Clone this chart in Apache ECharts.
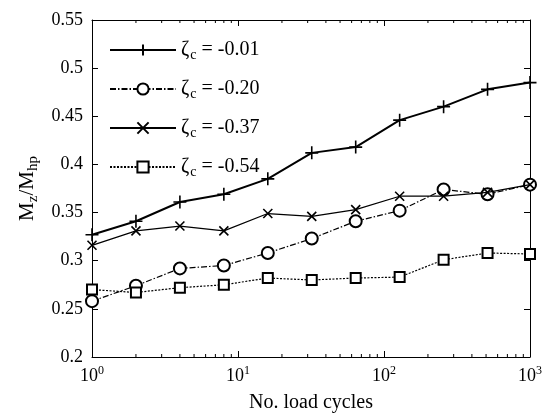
<!DOCTYPE html>
<html>
<head>
<meta charset="utf-8">
<script src="https://cdn.jsdelivr.net/npm/echarts@6/dist/echarts.min.js"></script>
<style>
  html, body { margin: 0; padding: 0; background: #fff; }
  #main { width: 545px; height: 418px; }
</style>
</head>
<body>
<div id="main"></div>
<script>
// load cycles (log x axis)
var cycles = [1, 2, 4, 8, 16, 32, 64, 128, 256, 512, 1000];
var zetaNames = ['-0.01', '-0.20', '-0.37', '-0.54'];
var zeta001 = [0.327, 0.341, 0.361, 0.369, 0.385, 0.412, 0.418, 0.446, 0.460, 0.478, 0.485];
var zeta020 = [0.258, 0.274, 0.292, 0.295, 0.308, 0.323, 0.341, 0.352, 0.374, 0.369, 0.379];
var zeta037 = [0.316, 0.331, 0.336, 0.331, 0.349, 0.346, 0.353, 0.367, 0.367, 0.371, 0.379];
var zeta054 = [0.270, 0.267, 0.272, 0.275, 0.282, 0.280, 0.282, 0.283, 0.301, 0.308, 0.307];
var xTicks = [1, 10, 100, 1000];
var yTicks = [0.2, 0.25, 0.3, 0.35, 0.4, 0.45, 0.5, 0.55];
// minor log ticks
var minorX = [2, 3, 4, 5, 6, 7, 8, 9, 20, 30, 40, 50, 60, 70, 80, 90, 200, 300, 400, 500, 600, 700, 800, 900];

var serif = 'Liberation Serif';
var myChart = echarts.init(document.getElementById('main'));

function pairs(ys) {
    return cycles.map(function (c, i) { return [c, ys[i]]; });
}

var plusPath = 'path://M0,-10L0,10M-10,0L10,0';
var crossPath = 'path://M-10,-10L10,10M-10,10L10,-10';

var option = {
    animation: false,
    textStyle: { fontFamily: serif, color: '#000' },
    grid: { left: 92, right: 14, top: 20, bottom: 57 },
    legend: {
        orient: 'vertical',
        left: 109,
        top: 40,
        itemWidth: 66,
        itemHeight: 14,
        itemGap: 17,
        padding: 0,
        data: zetaNames,
        formatter: function (n) { return '{z|ζ}{s|c}{z| = ' + n + '}'; },
        textStyle: {
            rich: {
                z: { fontFamily: serif, fontSize: 20, color: '#000' },
                s: { fontFamily: serif, fontSize: 14, color: '#000', verticalAlign: 'bottom', padding: [10, 0, 0, 1] }
            }
        }
    },
    xAxis: [{
        type: 'log',
        logBase: 10,
        min: 1,
        max: 1000,
        name: 'No. load cycles',
        nameLocation: 'middle',
        nameGap: 36,
        nameTextStyle: { fontFamily: serif, fontSize: 20, color: '#000' },
        axisLine: { lineStyle: { color: '#000', width: 1 } },
        axisTick: { inside: true, length: 6, lineStyle: { color: '#000' } },
        splitLine: { show: false },
        axisLabel: {
            margin: 8,
            formatter: function (v) {
                return '10{p|' + Math.round(Math.log10(v)) + '}';
            },
            fontFamily: serif, fontSize: 18, color: '#000',
            rich: { p: { fontFamily: serif, fontSize: 12, color: '#000', verticalAlign: 'top', padding: [0, 0, 10, 0] } }
        }
    }, {
        type: 'log',
        logBase: 10,
        min: 1,
        max: 1000,
        position: 'top',
        axisLine: { lineStyle: { color: '#000', width: 1 } },
        axisTick: { inside: true, length: 6, lineStyle: { color: '#000' } },
        axisLabel: { show: false },
        splitLine: { show: false }
    }],
    yAxis: [{
        type: 'value',
        min: 0.2,
        max: 0.55,
        interval: 0.05,
        name: 'M{s|z}/M{s|hp}',
        nameLocation: 'middle',
        nameGap: 50,
        nameTextStyle: {
            fontFamily: serif, fontSize: 21, color: '#000',
            rich: { s: { fontFamily: serif, fontSize: 15, color: '#000', verticalAlign: 'bottom', padding: [11, 0, 0, 0] } }
        },
        axisLine: { show: true, lineStyle: { color: '#000', width: 1 } },
        axisTick: { show: true, inside: true, length: 6, lineStyle: { color: '#000' } },
        splitLine: { show: false },
        axisLabel: {
            margin: 9,
            fontFamily: serif, fontSize: 18, color: '#000',
            formatter: function (v) { return String(parseFloat(v.toFixed(2))); }
        }
    }, {
        type: 'value',
        min: 0.2,
        max: 0.55,
        interval: 0.05,
        position: 'right',
        axisLine: { show: true, lineStyle: { color: '#000', width: 1 } },
        axisTick: { show: true, inside: true, length: 6, lineStyle: { color: '#000' } },
        axisLabel: { show: false },
        splitLine: { show: false }
    }],
    series: [{
        name: zetaNames[0],
        type: 'line',
        data: pairs(zeta001),
        symbol: plusPath,
        symbolSize: 13,
        itemStyle: { color: '#000', borderColor: '#000', borderWidth: 1.6 },
        lineStyle: { color: '#000', width: 2 },
        z: 4
    }, {
        name: zetaNames[1],
        type: 'line',
        data: pairs(zeta020),
        symbol: 'emptyCircle',
        symbolSize: 12,
        itemStyle: { color: '#000', borderColor: '#000', borderWidth: 1.5 },
        lineStyle: { color: '#000', width: 1.2, type: [6, 2, 1.5, 2] },
        z: 3
    }, {
        name: zetaNames[2],
        type: 'line',
        data: pairs(zeta037),
        symbol: crossPath,
        symbolSize: 9,
        itemStyle: { color: '#000', borderColor: '#000', borderWidth: 1.6 },
        lineStyle: { color: '#000', width: 1.2 },
        z: 5
    }, {
        name: zetaNames[3],
        type: 'line',
        data: pairs(zeta054),
        symbol: 'emptyRect',
        symbolSize: 10,
        itemStyle: { color: '#000', borderColor: '#000', borderWidth: 1.5 },
        lineStyle: { color: '#000', width: 1.2, type: [2, 1.5] },
        z: 3
    }, {
        // minor log ticks on top and bottom frame
        type: 'custom',
        silent: true,
        data: minorX.map(function (v) { return [v, 0.2]; }),
        renderItem: function (params, api) {
            var bottom = api.coord([api.value(0), 0.2]);
            var top = api.coord([api.value(0), 0.55]);
            var st = { stroke: '#000', lineWidth: 1 };
            return {
                type: 'group',
                children: [
                    { type: 'line', shape: { x1: bottom[0], y1: bottom[1], x2: bottom[0], y2: bottom[1] - 3 }, style: st },
                    { type: 'line', shape: { x1: top[0], y1: top[1], x2: top[0], y2: top[1] + 3 }, style: st }
                ]
            };
        }
    }]
};

myChart.setOption(option);
</script>
</body>
</html>
